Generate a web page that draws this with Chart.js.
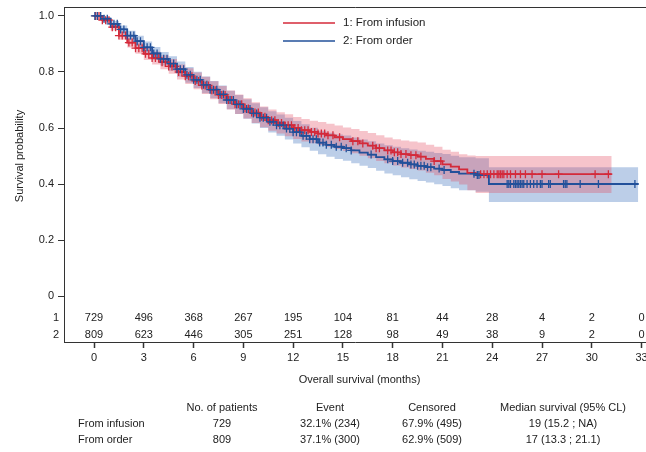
<!DOCTYPE html>
<html>
<head>
<meta charset="utf-8">
<script src="https://cdn.jsdelivr.net/npm/chart.js@4.4.1/dist/chart.umd.min.js"></script>
<style>
    html, body { margin: 0; padding: 0; background: #fff; }
    #wrap { position: relative; width: 646px; height: 452px; overflow: hidden; font-family: "Liberation Sans", Arial, sans-serif; color: #222; }
    #km { position: absolute; left: 0; top: 0; }
    .cell { position: absolute; font-size: 11px; white-space: nowrap; transform: translateX(-50%); }
    .rowlab { position: absolute; font-size: 11px; white-space: nowrap; }
</style>
</head>
<body>
<div id="wrap">
    <canvas id="km" width="652" height="452"></canvas>
    <div id="tbl"></div>
</div>
<script>
// Kaplan-Meier estimates (months, survival)
const infTimes = [0, 0.5, 1, 1.5, 2, 2.5, 3, 3.5, 4, 4.5, 5, 5.5, 6, 6.5, 7, 7.5, 8, 8.5, 9, 9.5, 10, 10.5, 11, 11.5, 12, 12.5, 13, 13.5, 14, 14.5, 15, 15.5, 16, 16.5, 17, 17.5, 18, 18.5, 19, 19.5, 20, 20.5, 21, 21.5, 22, 22.5, 23, 31.2];
const infSurv  = [1.0, 0.985, 0.96, 0.93, 0.905, 0.885, 0.865, 0.85, 0.835, 0.82, 0.80, 0.785, 0.768, 0.752, 0.735, 0.718, 0.70, 0.685, 0.67, 0.655, 0.64, 0.628, 0.618, 0.61, 0.60, 0.592, 0.586, 0.58, 0.574, 0.567, 0.56, 0.553, 0.545, 0.537, 0.528, 0.52, 0.513, 0.507, 0.503, 0.498, 0.49, 0.482, 0.47, 0.462, 0.452, 0.44, 0.435, 0.435];
const infUpper = [1.0, 0.993, 0.972, 0.945, 0.923, 0.905, 0.887, 0.873, 0.86, 0.846, 0.827, 0.813, 0.798, 0.783, 0.767, 0.75, 0.734, 0.72, 0.706, 0.692, 0.677, 0.666, 0.656, 0.649, 0.639, 0.632, 0.626, 0.621, 0.615, 0.609, 0.602, 0.596, 0.589, 0.582, 0.574, 0.566, 0.56, 0.555, 0.552, 0.548, 0.54, 0.533, 0.522, 0.515, 0.506, 0.502, 0.50, 0.50];
const infLower = [1.0, 0.977, 0.948, 0.915, 0.887, 0.865, 0.843, 0.827, 0.81, 0.794, 0.773, 0.757, 0.738, 0.721, 0.703, 0.686, 0.666, 0.65, 0.634, 0.618, 0.603, 0.59, 0.58, 0.571, 0.561, 0.552, 0.546, 0.539, 0.533, 0.525, 0.518, 0.51, 0.501, 0.492, 0.482, 0.474, 0.466, 0.459, 0.454, 0.448, 0.44, 0.431, 0.418, 0.409, 0.398, 0.378, 0.368, 0.368];
const infCensor = [0.1, 0.3, 0.5, 0.7, 0.9, 1.1, 1.3, 1.5, 1.7, 1.9, 2.1, 2.3, 2.5, 2.7, 2.9, 3.1, 3.3, 3.5, 3.7, 3.9, 4.1, 4.3, 4.5, 4.7, 4.9, 5.1, 5.3, 5.5, 5.7, 5.9, 6.1, 6.3, 6.5, 6.7, 6.9, 7.1, 7.3, 7.5, 7.7, 7.9, 8.1, 8.3, 8.5, 8.7, 8.9, 9.1, 9.3, 9.5, 9.7, 9.9, 10.1, 10.3, 10.5, 10.7, 10.9, 11.1, 11.3, 11.5, 11.7, 11.9, 12.1, 12.3, 12.5, 12.7, 12.9, 13.1, 13.3, 13.5, 13.7, 13.9, 14.1, 14.4, 14.8, 15.6, 15.9, 16.2, 16.8, 17.0, 17.2, 17.7, 17.9, 18.1, 18.3, 18.5, 18.8, 19.1, 19.4, 19.7, 20.5, 20.9, 23.3, 23.5, 23.7, 23.9, 24.1, 24.3, 24.4, 24.5, 24.6, 24.7, 24.9, 25.1, 25.4, 25.7, 26.0, 26.4, 27.0, 28.0, 30.2, 31.0];

const ordTimes = [0, 0.5, 1, 1.5, 2, 2.5, 3, 3.5, 4, 4.5, 5, 5.5, 6, 6.5, 7, 7.5, 8, 8.5, 9, 9.5, 10, 10.5, 11, 11.5, 12, 12.5, 13, 13.5, 14, 14.5, 15, 15.5, 16, 16.5, 17, 17.5, 18, 18.5, 19, 19.5, 20, 20.5, 21, 21.5, 22, 23, 23.8, 32.8];
const ordSurv  = [1.0, 0.99, 0.972, 0.952, 0.93, 0.91, 0.888, 0.866, 0.847, 0.83, 0.81, 0.79, 0.772, 0.754, 0.737, 0.72, 0.70, 0.684, 0.668, 0.652, 0.637, 0.622, 0.61, 0.598, 0.585, 0.572, 0.56, 0.548, 0.54, 0.533, 0.528, 0.52, 0.512, 0.505, 0.496, 0.488, 0.482, 0.476, 0.47, 0.465, 0.46, 0.455, 0.45, 0.443, 0.437, 0.432, 0.40, 0.40];
const ordUpper = [1.0, 0.996, 0.982, 0.966, 0.947, 0.929, 0.909, 0.889, 0.871, 0.856, 0.837, 0.818, 0.801, 0.784, 0.768, 0.752, 0.733, 0.718, 0.703, 0.688, 0.674, 0.66, 0.648, 0.637, 0.625, 0.613, 0.601, 0.59, 0.583, 0.577, 0.573, 0.566, 0.559, 0.553, 0.545, 0.538, 0.533, 0.528, 0.523, 0.519, 0.515, 0.511, 0.507, 0.501, 0.496, 0.492, 0.46, 0.46];
const ordLower = [1.0, 0.984, 0.962, 0.938, 0.913, 0.891, 0.867, 0.843, 0.823, 0.804, 0.783, 0.762, 0.743, 0.724, 0.706, 0.688, 0.667, 0.65, 0.633, 0.616, 0.6, 0.584, 0.572, 0.559, 0.545, 0.531, 0.519, 0.506, 0.497, 0.489, 0.483, 0.474, 0.465, 0.457, 0.447, 0.438, 0.431, 0.424, 0.417, 0.411, 0.405, 0.399, 0.393, 0.385, 0.378, 0.372, 0.336, 0.336];
const ordCensor = [0.05, 0.2, 0.4, 0.6, 0.8, 1.0, 1.2, 1.4, 1.6, 1.8, 2.0, 2.2, 2.4, 2.6, 2.8, 3.0, 3.2, 3.4, 3.6, 3.8, 4.0, 4.2, 4.4, 4.6, 4.8, 5.0, 5.2, 5.4, 5.6, 5.8, 6.0, 6.2, 6.4, 6.6, 6.8, 7.0, 7.2, 7.4, 7.6, 7.8, 8.0, 8.2, 8.4, 8.6, 8.8, 9.0, 9.2, 9.4, 9.6, 9.8, 10.0, 10.2, 10.4, 10.6, 10.8, 11.0, 11.2, 11.4, 11.6, 11.8, 12.0, 12.2, 12.4, 12.6, 12.8, 13.0, 13.2, 13.4, 13.6, 13.8, 14.0, 14.3, 14.6, 14.9, 15.2, 15.5, 16.7, 17.7, 18.0, 18.3, 18.6, 18.9, 19.1, 19.3, 19.5, 19.7, 19.9, 20.1, 20.3, 20.8, 21.1, 22.9, 23.1, 23.2, 24.9, 25.0, 25.1, 25.3, 25.4, 25.5, 25.6, 25.7, 25.8, 25.9, 26.1, 26.3, 26.5, 26.7, 26.9, 27.0, 27.4, 27.5, 28.3, 28.4, 28.5, 29.3, 30.4, 32.6];

// Number at risk
const riskTimes = [0, 3, 6, 9, 12, 15, 18, 21, 24, 27, 30, 33];
const riskInf = [729, 496, 368, 267, 195, 104, 81, 44, 28, 4, 2, 0];
const riskOrd = [809, 623, 446, 305, 251, 128, 98, 49, 38, 9, 2, 0];
const yTicks = [0, 0.2, 0.4, 0.6, 0.8, 1.0];

// Summary table
const groupNames = ['From infusion', 'From order'];
const nPatients = ['729', '809'];
const eventText = ['32.1% (234)', '37.1% (300)'];
const censoredText = ['67.9% (495)', '62.9% (509)'];
const medianText = ['19 (15.2 ; NA)', '17 (13.3 ; 21.1)'];
const tableHeads = ['No. of patients', 'Event', 'Censored', 'Median survival (95% CL)'];

const RED = '#d42a3a';
const BLUE = '#22509a';
const FONT = '"Liberation Sans", Arial, sans-serif';

const toPts = (xs, ys) => xs.map((x, i) => ({ x: x, y: ys[i] }));

// survival value at time t, looked up from the step data
function survAt(times, surv, t) {
    let idx = 0;
    for (let i = 0; i < times.length; i++) if (times[i] <= t) idx = i;
    return surv[idx];
}

const censorPts = (cs, times, surv) => cs.map(t => ({ x: t, y: survAt(times, surv, t) }));

const decor = {
    id: 'decor',
    afterDraw(chart) {
        const { ctx, chartArea, scales } = chart;
        const x = scales.x, y = scales.y;
        ctx.save();
        // top frame line
        ctx.strokeStyle = '#333';
        ctx.lineWidth = 1;
        ctx.beginPath();
        ctx.moveTo(chartArea.left, chartArea.top + 0.5);
        ctx.lineTo(chartArea.right, chartArea.top + 0.5);
        ctx.stroke();

        ctx.fillStyle = '#222';
        ctx.font = '11px ' + FONT;
        ctx.textBaseline = 'middle';

        // number at risk
        const y0 = y.getPixelForValue(0);
        ctx.textAlign = 'center';
        riskTimes.forEach((t, i) => {
            const px = x.getPixelForValue(t);
            ctx.fillText(String(riskInf[i]), px, y0 + 22);
            ctx.fillText(String(riskOrd[i]), px, y0 + 39);
        });
        ctx.fillText('1', 56, y0 + 22);
        ctx.fillText('2', 56, y0 + 39);

        // axis titles
        ctx.fillText('Overall survival (months)', x.getPixelForValue(16), chartArea.bottom + 38);
        ctx.save();
        ctx.translate(20, y.getPixelForValue(0.5));
        ctx.rotate(-Math.PI / 2);
        ctx.fillText('Survival probability', 0, 0);
        ctx.restore();

        // legend
        const items = [chart.data.datasets[2], chart.data.datasets[3]];
        ctx.textAlign = 'left';
        ctx.font = '11.5px ' + FONT;
        items.forEach((ds, i) => {
            const ly = chartArea.top + 16 + i * 18;
            ctx.strokeStyle = ds.borderColor;
            ctx.lineWidth = 1.5;
            ctx.beginPath();
            ctx.moveTo(283, ly);
            ctx.lineTo(335, ly);
            ctx.stroke();
            ctx.fillText(ds.label, 343, ly);
        });
        ctx.restore();
    }
};

new Chart(document.getElementById('km'), {
    type: 'scatter',
    data: {
        datasets: [
            { label: 'censor 2', data: censorPts(ordCensor, ordTimes, ordSurv), showLine: false, pointStyle: 'cross', radius: 4, borderColor: BLUE, borderWidth: 1.3 },
            { label: 'censor 1', data: censorPts(infCensor, infTimes, infSurv), showLine: false, pointStyle: 'cross', radius: 4, borderColor: RED, borderWidth: 1.3 },
            { label: '1: From infusion', data: toPts(infTimes, infSurv), showLine: true, stepped: true, borderColor: RED, borderWidth: 1.8, pointRadius: 0 },
            { label: '2: From order', data: toPts(ordTimes, ordSurv), showLine: true, stepped: true, borderColor: BLUE, borderWidth: 1.8, pointRadius: 0 },
            { label: 'ci 1 upper', data: toPts(infTimes, infUpper), showLine: true, stepped: true, borderWidth: 0, pointRadius: 0, fill: '+1', backgroundColor: 'rgba(226, 70, 92, 0.32)' },
            { label: 'ci 1 lower', data: toPts(infTimes, infLower), showLine: true, stepped: true, borderWidth: 0, pointRadius: 0, fill: false },
            { label: 'ci 2 upper', data: toPts(ordTimes, ordUpper), showLine: true, stepped: true, borderWidth: 0, pointRadius: 0, fill: '+1', backgroundColor: 'rgba(70, 118, 192, 0.36)' },
            { label: 'ci 2 lower', data: toPts(ordTimes, ordLower), showLine: true, stepped: true, borderWidth: 0, pointRadius: 0, fill: false }
        ]
    },
    options: {
        responsive: false,
        animation: false,
        layout: { padding: { top: 7, left: 0, right: 0, bottom: 0 } },
        plugins: { legend: { display: false }, tooltip: { enabled: false } },
        scales: {
            x: {
                type: 'linear',
                min: -1.81,
                max: 33.31,
                afterBuildTicks: s => { s.ticks = riskTimes.map(v => ({ value: v })); },
                afterFit: s => { s.height = 110; },
                grid: { drawOnChartArea: false, tickLength: 6, tickColor: '#333', tickWidth: 1.5 },
                border: { display: true, color: '#333', width: 1 },
                ticks: { color: '#222', font: { family: FONT, size: 11 }, padding: 3, maxRotation: 0, autoSkip: false }
            },
            y: {
                type: 'linear',
                min: -0.164,
                max: 1.032,
                afterBuildTicks: s => { s.ticks = yTicks.map(v => ({ value: v })); },
                afterFit: s => { s.width = 64; s.paddingTop = 0; s.paddingBottom = 0; },
                grid: { drawOnChartArea: false, tickLength: 6, tickColor: '#333', tickWidth: 1 },
                border: { display: true, color: '#333', width: 1 },
                ticks: {
                    color: '#222', font: { family: FONT, size: 11 }, padding: 4, autoSkip: false,
                    callback: v => v === 0 ? '0' : v.toFixed(1)
                }
            }
        }
    },
    plugins: [decor]
});

// summary table under the chart
const tbl = document.getElementById('tbl');
const colX = [222, 330, 432, 563];
const addCell = (txt, x, y, cls) => {
    const d = document.createElement('div');
    d.className = cls;
    d.textContent = txt;
    d.style.left = x + 'px';
    d.style.top = y + 'px';
    tbl.appendChild(d);
};
tableHeads.forEach((h, i) => addCell(h, colX[i], 401, 'cell'));
groupNames.forEach((g, r) => {
    const ty = 417 + r * 16;
    addCell(g, 78, ty, 'rowlab');
    addCell(nPatients[r], colX[0], ty, 'cell');
    addCell(eventText[r], colX[1], ty, 'cell');
    addCell(censoredText[r], colX[2], ty, 'cell');
    addCell(medianText[r], colX[3], ty, 'cell');
});
</script>
</body>
</html>
